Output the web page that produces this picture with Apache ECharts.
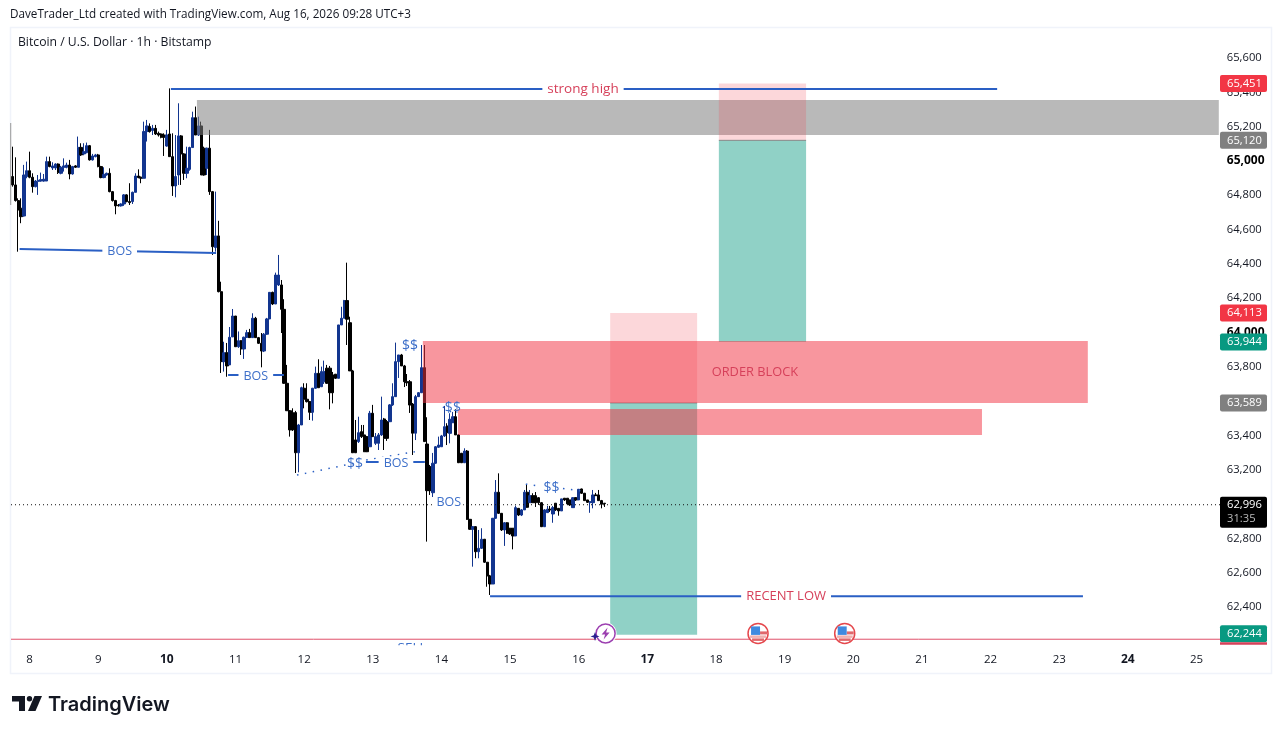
<!DOCTYPE html>
<html><head><meta charset="utf-8">
<style>html,body{margin:0;padding:0;background:#fff}#c{width:1281px;height:734px}</style>
<script src="https://cdn.jsdelivr.net/npm/echarts@6/dist/echarts.min.js"></script>
</head><body><div id="c"></div>
<script>
const FIRST_HOUR = -6;
const dayLabels = [8,9,10,11,12,13,14,15,16,17,18,19,20,21,22,23,24,25];
const boldDays = [10,17,24];
const opens = [64903,64854,64763,64718,64673,64903,
64937,64899,64844,64875,64877,64877,64877,64990,64953,64953,
64976,64922,64957,64957,64970,64918,64965,64957,65073,65035,
65042,65083,65000,65019,65029,64961,64897,64912,64922,64815,
64763,64737,64732,64743,64796,64757,64757,64811,64906,64899,
64893,65165,65194,65171,65184,65155,65151,65145,65081,65151,
65019,64848,64912,65140,65035,64922,64945,65072,65246,65145,
65198,65068,64951,65068,64815,64489,64557,64232,63824,63876,
63805,63968,64090,63911,63946,63898,63966,63993,63964,64077,
63964,63931,63886,63984,64073,64228,64160,64271,64271,64129,
63698,63538,63527,63527,63293,63455,63669,63605,63591,63529,
63669,63756,63678,63707,63786,63786,63747,63751,63727,64038,
64077,64180,64051,63770,63368,63358,63416,63397,63387,63328,
63523,63348,63348,63397,63490,63474,63474,63572,63620,63824,
63863,63799,63707,63707,63577,63407,63620,63643,63789,63344,
63212,63060,63232,63325,63328,63391,63449,63406,63468,63503,
63397,63290,63235,63303,62905,62847,62862,62716,62736,62789,
62655,62575,62528,62911,63063,62940,62843,62885,62853,62853,
62808,62969,62930,62960,63063,63002,63043,63043,63031,63002,
62862,62944,62964,62936,62999,62969,62954,63028,63028,63018,
62973,63031,63018,63082,63057,63018,63002,63002,63047,63047,63014,62999];
const closes = [64854,64763,64708,64669,64912,64937,
64899,64844,64877,64881,64885,64887,64990,64961,64965,64976,
64926,64957,64965,64970,64918,64961,64957,65073,65029,65048,
65083,65000,65023,65029,64961,64897,64916,64922,64815,64763,
64732,64733,64743,64796,64757,64751,64811,64906,64897,64893,
65165,65198,65165,65184,65151,65145,65132,65132,65145,65019,
64848,64903,65140,65035,64922,64951,65072,65246,65145,65198,
64912,64912,65068,64815,64494,64557,64232,63824,63876,63799,
63966,64090,63911,63946,63898,63966,63993,63964,64077,63964,
63931,63886,63984,64073,64228,64160,64329,64329,64129,63698,
63538,63426,63426,63293,63455,63672,63605,63591,63529,63669,
63756,63672,63766,63766,63698,63643,63643,63727,64038,64077,
64180,64071,63770,63293,63293,63410,63387,63299,63299,63523,
63387,63387,63397,63484,63377,63377,63572,63620,63824,63863,
63799,63707,63701,63571,63407,63620,63643,63789,63358,63072,
63072,63232,63328,63338,63391,63445,63410,63488,63503,63397,
63235,63235,63303,62905,62847,62862,62716,62736,62789,62655,
62575,62528,62911,63063,62940,62843,62885,62824,62820,62808,
62973,62930,62960,63063,62975,63043,63002,63002,63002,62862,
62960,62964,62960,62973,62960,62954,63024,63018,62995,62989,
63031,63018,63080,63057,63014,63004,63008,63047,63043,63014,62993,62996];
const lows = [64844,64757,64465,64631,64670,64893,
64893,64809,64840,64796,64873,64873,64877,64957,64941,64941,
64918,64916,64932,64951,64887,64914,64953,64957,65023,65027,
65039,64996,64996,65015,64957,64893,64893,64908,64811,64757,
64683,64728,64728,64732,64753,64737,64743,64811,64893,64864,
64893,65107,65159,65145,65145,65136,65126,65023,65077,65019,
64790,64782,64854,64854,64883,64893,64937,65072,65145,65140,
64912,64908,64912,64796,64446,64465,64228,63758,63766,63736,
63805,63968,63910,63904,63863,63840,63962,63962,63962,63962,
63927,63791,63880,63980,64073,64154,64160,64265,63991,63694,
63537,63387,63420,63175,63179,63455,63552,63586,63484,63480,
63665,63671,63676,63694,63694,63546,63581,63723,63727,64038,
64077,63921,63770,63292,63292,63350,63379,63297,63297,63327,
63385,63338,63309,63391,63309,63362,63472,63566,63618,63729,
63799,63676,63682,63525,63280,63367,63618,63641,63356,62775,
63047,63035,63228,63321,63327,63385,63338,63348,63467,63397,
63233,63233,63233,62901,62843,62629,62678,62678,62732,62651,
62512,62464,62528,62907,62936,62837,62750,62820,62814,62730,
62808,62924,62924,62960,62971,63000,63000,62977,62989,62860,
62860,62942,62948,62885,62954,62926,62954,63012,62989,62983,
62971,63012,63018,63053,63012,63000,62943,62969,63041,63012,62969,62977];
const highs = [65077,65015,64776,64776,64971,64990,
65048,64922,64883,64912,64926,64918,65019,65019,64986,64980,
64980,64965,65009,64984,65000,64965,64970,65136,65097,65097,
65101,65087,65035,65035,65035,64965,64957,64926,64951,64819,
64767,64743,64747,64801,64800,64864,64815,64922,64945,64903,
65223,65233,65213,65204,65204,65165,65155,65155,65175,65417,
65155,65145,65330,65145,65039,65077,65077,65281,65311,65252,
65223,65077,65072,65175,64819,64815,64645,64290,63940,63933,
64026,64131,64090,64000,63950,63970,64009,64015,64106,64085,
63968,63991,63991,64079,64230,64232,64343,64446,64300,64188,
63805,63542,63552,63537,63461,63678,63698,63698,63595,63671,
63795,63838,63795,63830,63805,63799,63764,63752,64038,64144,
64184,64401,64086,63776,63484,63503,63455,63455,63391,63537,
63572,63408,63408,63620,63496,63484,63577,63698,63935,63863,
63869,63805,63752,63717,63583,63630,63647,63921,63921,63500,
63222,63292,63332,63387,63397,63566,63465,63523,63531,63546,
63402,63292,63319,63309,62907,62866,62866,62843,62853,62790,
62656,62581,62913,63134,63173,62942,62889,62889,62854,62854,
62985,62971,62965,63076,63105,63076,63057,63064,63035,63006,
62965,62983,62983,62983,63000,62971,63024,63029,63029,63018,
63035,63035,63082,63084,63059,63018,63012,63076,63059,63076,63018,63000];
// my pixel readings of the candles sat one pixel (about 6 USD) low against the axis
const READ_CALIBRATION = 6;

// annotation values: hours since Aug 8 00:00, prices
const greyZone = {h1:58.5, h2:415.8, top:65355, bottom:65151};
const shortTool = {h1:203, h2:233.4, top:64113, entry:63589, bottom:62238};
const longTool  = {h1:241, h2:271.5, top:65451, entry:65120, bottom:63944};
const redZones = [{h1:137.5,h2:370,top:63950,bottom:63589},{h1:149.8,h2:333,top:63554,bottom:63403}];
const levelLines = [
 {h1:49.4,p1:65419,h2:338.3,p2:65419,label:'strong high',lh:193.5,lp:65419,red:true},
 {h1:-3.5,p1:64487,h2:65.2,p2:64464,label:'BOS',lh:31.5,lp:64470},
 {h1:69.4,p1:63752,h2:88.9,p2:63752,label:'BOS',lh:79.1,lp:63746},
 {h1:117.6,p1:63245,h2:138.2,p2:63245,label:'BOS',lh:128.1,lp:63239},
 {h1:161,p1:62462,h2:368.3,p2:62462,label:'RECENT LOW',lh:264.5,lp:62464,red:true}
];
const dottedLines = [[93.5,63169,113.8,63239],[117.7,63257,134.7,63305],[134.8,63926,137.2,63921],[144.5,63566,147.5,63536],[173.5,63116,178.5,63104],[186.5,63091,193,63076]];
const dollarLabels = [[133,63920],[113.8,63236],[148,63560],[182.5,63092]];
const extraLabels = [{t:'ORDER BLOCK',h:253.6,p:63770,red:true},{t:'BOS',h:146.6,p:63012,mask:true}];
const lastPrice = 62996;
const countdown = '31:35';
const tagPrices = [65451,65120,64113,63944,63589,62244];
const stopLine = 62212;
const eventHours = [254.7,285];
const boltHour = 201.4, starHour = 197.7, eventPrice = 62246;
const stubLine = [-6.6,65221,64743];

const fmt = v => Math.round(v).toLocaleString('en-US');
const FONT = '"Open Sans",sans-serif';
const categories = [];
for (let h = FIRST_HOUR; h < FIRST_HOUR + 423; h++) {
  const d = 8 + Math.floor(h / 24), hh = ((h % 24) + 24) % 24;
  categories.push(d + '|' + hh);
}
const candles = opens.map((o, i) => [o, closes[i], lows[i], highs[i]].map(v => v + READ_CALIBRATION));
const BLUE = '#12358f', BLACK = '#000', LINE = '#2a5fc4', TXT = '#3d6fc9', RED = '#d6405a';

function annotations(params, api) {
  const c = [], pt = (h, p) => api.coord([h, p]);
  const rect = (z, fill) => {
    const a = pt(z.h1, z.top), b = pt(z.h2, z.bottom);
    c.push({type:'rect', shape:{x:a[0],y:a[1],width:b[0]-a[0],height:b[1]-a[1]}, style:{fill}});
  };
  const line = (h1,p1,h2,p2,stroke,lineWidth,lineDash) => {
    const a = pt(h1,p1), b = pt(h2,p2);
    c.push({type:'line', shape:{x1:a[0],y1:a[1],x2:b[0],y2:b[1]}, style:{stroke,lineWidth,lineDash:lineDash||null}});
  };
  const text = (t,h,p,fill,size,mask,pad) => {
    const a = pt(h,p);
    const s = {x:a[0],y:a[1],text:t,fill,font:`${size}px ${FONT}`,align:'center',verticalAlign:'middle'};
    if (mask) { s.backgroundColor = '#fff'; s.padding = pad || [0,5]; }
    c.push({type:'text', style:s});
  };
  rect(greyZone, 'rgba(128,128,128,.55)');
  [shortTool, longTool].forEach(t => {
    rect({h1:t.h1,h2:t.h2,top:t.top,bottom:t.entry}, 'rgba(242,54,69,.2)');
    rect({h1:t.h1,h2:t.h2,top:t.entry,bottom:t.bottom}, 'rgba(8,153,129,.45)');
    line(t.h1,t.entry,t.h2,t.entry,'#888',1);
  });
  redZones.forEach(z => rect(z,'rgba(242,54,69,.52)'));
  line(-6.5,lastPrice,416.5,lastPrice,'#111',1,[1,3]);
  line(-6.5,stopLine,416.5,stopLine,'#e0506a',1);
  line(stubLine[0],stubLine[1],stubLine[0],stubLine[2],'#999',1);
  dottedLines.forEach(d => line(d[0],d[1],d[2],d[3],LINE,1.5,[1.5,6.5]));
  levelLines.forEach(l => {
    line(l.h1,l.p1,l.h2,l.p2,LINE,2);
    text(l.label,l.lh,l.lp,l.red?RED:TXT,l.label==='strong high'?13.5:(l.red?13:12.5),true);
  });
  extraLabels.forEach(l => text(l.t,l.h,l.p,l.red?RED:TXT,l.red?12.8:12.5,!!l.mask,[0,2]));
  dollarLabels.forEach(d => text('$$',d[0],d[1],TXT,14));
  // clipped text under the plot
  const sx = pt(133.7,stopLine);
  c.push({type:'text',style:{x:sx[0],y:sx[1]+9,text:'SELL',fill:TXT,font:`13.5px ${FONT}`,align:'center',verticalAlign:'middle'}});
  c.push({type:'rect',shape:{x:sx[0]-18,y:sx[1]+6,width:36,height:14},style:{fill:'#fff'}});
  // event icons
  const bolt = pt(boltHour,eventPrice), star = pt(starHour,eventPrice);
  c.push({type:'circle',shape:{cx:bolt[0],cy:bolt[1],r:10},style:{fill:'#fff',stroke:'#fff',lineWidth:2}});
  c.push({type:'circle',shape:{cx:bolt[0],cy:bolt[1],r:9.5},style:{fill:'#fff',stroke:'#9c3fb0',lineWidth:1.5}});
  const B = (x,y)=>[bolt[0]+x,bolt[1]+y];
  c.push({type:'polygon',shape:{points:[B(2,-6),B(-4,1),B(-0.5,1),B(-2,6),B(4,-1),B(0.5,-1)]},style:{fill:'#9c3fb0'}});
  const S = (x,y)=>[star[0]+x,star[1]+3+y];
  c.push({type:'polygon',shape:{points:[S(0,-4.5),S(1.2,-1.2),S(4.5,0),S(1.2,1.2),S(0,4.5),S(-1.2,1.2),S(-4.5,0),S(-1.2,-1.2)]},style:{fill:'#2a1f8f'}});
  eventHours.forEach(h => {
    const e = pt(h,eventPrice), x = e[0], y = e[1];
    c.push({type:'circle',shape:{cx:x,cy:y,r:10},style:{fill:'#fff',stroke:'#e5484d',lineWidth:1.5}});
    c.push({type:'rect',shape:{x:x+2,y:y-2,width:7,height:3},style:{fill:'#e0686c'}});
    c.push({type:'rect',shape:{x:x-8,y:y+2,width:16,height:2.5},style:{fill:'#f0b0b0'}});
    c.push({type:'rect',shape:{x:x-6,y:y+5,width:12,height:2.5},style:{fill:'#e0686c'}});
    c.push({type:'rect',shape:{x:x-7,y:y-7,width:9,height:8.5},style:{fill:'#3f8ae0'}});
  });
  return {type:'group', children:c};
}

function priceTags(params, api) {
  const c = [];
  const tag = (price, fill, label, sub) => {
    const y = api.coord([0,price])[1];
    const h = sub ? 31 : 17;
    const top = sub ? y - 8 : y - 8.5;
    c.push({type:'rect',shape:{x:1220,y:top,width:47,height:h,r:2},style:{fill}});
    c.push({type:'text',style:{x:1227,y:top+8.5,text:label,fill:'#fff',font:`11.2px ${FONT}`,verticalAlign:'middle'}});
    if (sub) c.push({type:'text',style:{x:1227,y:top+22.5,text:sub,fill:'#bbb',font:`11.2px ${FONT}`,verticalAlign:'middle'}});
    if (price===62244) c.push({type:'rect',shape:{x:1220,y:top+17,width:47,height:2.5},style:{fill:'#d6405a'}});
  };
  const fills = {65451:'#f23645',65120:'#808080',64113:'#f23645',63944:'#089981',63589:'#808080',62244:'#089981'};
  tagPrices.forEach(p => tag(p, fills[p], fmt(p)));
  tag(lastPrice,'#000',fmt(lastPrice),countdown);
  return {type:'group',children:c};
}

const chart = echarts.init(document.getElementById('c'), null, {renderer:'canvas'});
chart.setOption({
  animation:false,
  backgroundColor:'#fff',
  textStyle:{fontFamily:FONT},
  grid:{left:11, top:29, width:1209.8, height:612.3, containLabel:false},
  xAxis:[{
    type:'category', data:categories, boundaryGap:true,
    axisLine:{show:false}, axisTick:{show:false}, splitLine:{show:false},
    axisLabel:{
      margin:12.5, color:'#131722', fontSize:11.5, hideOverlap:false,
      interval:(i,v)=> v.endsWith('|0') && dayLabels.includes(+v.split('|')[0]),
      formatter:v=>{const d=+v.split('|')[0];return boldDays.includes(d)?`{b|${d}}`:String(d);},
      rich:{b:{fontWeight:'bold',fontSize:12,color:'#131722'}}
    }
  },{type:'value', show:false, min:-6.5, max:416.5, splitLine:{show:false}}],
  yAxis:{
    type:'value', position:'right', min:62200, max:65769, interval:200, scale:true,
    axisLine:{show:false}, axisTick:{show:false}, splitLine:{show:false},
    axisLabel:{
      margin:6, color:'#131722', fontSize:11.2, align:'left',
      showMinLabel:false, showMaxLabel:false,
      formatter:v=>{ if(v%200!==0||v===62200) return ''; return v%1000===0?`{b|${fmt(v)}}`:fmt(v);},
      rich:{b:{fontWeight:'bold',fontSize:12,color:'#000'}}
    }
  },
  series:[
    {type:'candlestick', data:candles, barWidth:2.8, z:2, clip:true,
     itemStyle:{color:BLUE,color0:BLACK,borderColor:BLUE,borderColor0:BLACK,borderWidth:1}},
    {type:'custom', xAxisIndex:1, z:3, data:[[0,63000]], renderItem:annotations, silent:true, clip:false},
    {type:'custom', xAxisIndex:1, z:5, data:[[0,63000]], renderItem:priceTags, silent:true, clip:false}
  ],
  graphic:[
    {type:'rect',z:0,shape:{x:10.5,y:27.5,width:1261,height:646},style:{fill:'none',stroke:'#f0f3fa',lineWidth:1.5},silent:true},
    {type:'text',style:{x:10,y:15,text:'DaveTrader_Ltd created with TradingView.com, Aug 16, 2026 09:28 UTC+3',fill:'#131722',font:`11.7px ${FONT}`,verticalAlign:'middle'}},
    {type:'text',style:{x:18,y:43,text:'Bitcoin / U.S. Dollar · 1h · Bitstamp',fill:'#131722',font:`12.2px ${FONT}`,verticalAlign:'middle'}},
    {type:'polygon',shape:{points:[[12,696],[25,696],[25,711],[19,711],[19,701.5],[12,701.5]]},style:{fill:'#131722'}},
    {type:'circle',shape:{cx:29.5,cy:698.7,r:2.7},style:{fill:'#131722'}},
    {type:'polygon',shape:{points:[[34.5,696],[42,696],[35.5,711],[28,711]]},style:{fill:'#131722'}},
    {type:'text',style:{x:48,y:705,text:'TradingView',fill:'#131722',font:'600 20px Inter,sans-serif',verticalAlign:'middle'}}
  ]
});
</script></body></html>
